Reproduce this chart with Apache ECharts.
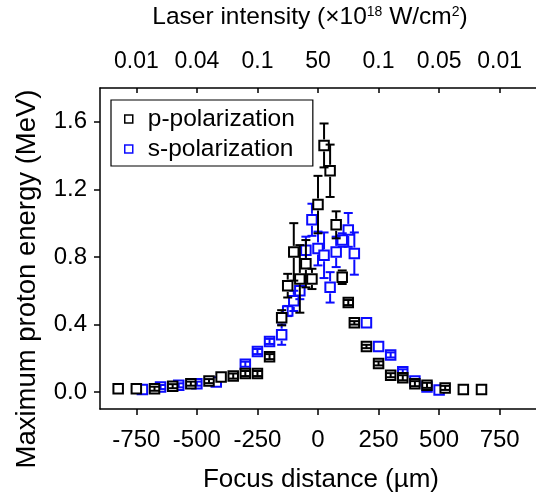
<!DOCTYPE html>
<html><head><meta charset="utf-8">
<script src="https://cdn.jsdelivr.net/npm/echarts@6/dist/echarts.min.js"></script>
<style>html,body{margin:0;padding:0;background:#fff}#c{width:536px;height:503px}</style>
</head><body><div id="c"></div>
<script>
// p-polarization (black)
const pX   = [-825,-750,-675,-600,-525,-450,-400,-350,-300,-250,-200,-150,-125,-100,-75,-50,-25,0,25,50,75,100,125,150,200,250,300,350,400,450,525,600,675];
const pY   = [0.02,0.02,0.02,0.035,0.05,0.065,0.09,0.095,0.11,0.11,0.21,0.44,0.63,0.83,0.67,0.76,0.67,1.11,1.46,1.31,0.99,0.68,0.53,0.41,0.27,0.17,0.10,0.085,0.05,0.04,0.025,0.015,0.015];
const pErr = [0,0,0.012,0.012,0.012,0.012,0,0.015,0.015,0.015,0.015,0.045,0.07,0.17,0.2,0.14,0.06,0.17,0.13,0.155,0.08,0.04,0.015,0.01,0.01,0.012,0.012,0.015,0.015,0.015,0.012,0,0];
// s-polarization (blue)
const sX   = [-725,-650,-575,-500,-420,-300,-250,-200,-150,-125,-100,-75,-50,-25,0,25,50,75,100,125,150,200,250,300,350,400,450,500];
const sY   = [0.015,0.03,0.04,0.05,0.06,0.165,0.24,0.30,0.34,0.48,0.54,0.60,0.84,1.02,0.85,0.81,0.62,0.83,0.90,0.96,0.82,0.41,0.27,0.22,0.12,0.065,0.03,0.012];
const sErr = [0,0.012,0.012,0.012,0,0.015,0.015,0.015,0.06,0.03,0.06,0.05,0.08,0.095,0.1,0.135,0.09,0.09,0.04,0.1,0.125,0,0,0.015,0.015,0.012,0,0];
// axes
const bottomTicks = [-750,-500,-250,0,250,500,750];
const topLabels   = ['0.01','0.04','0.1','50','0.1','0.05','0.01'];
const yTicks      = [0,0.4,0.8,1.2,1.6];
const yName = 'Maximum proton energy (MeV)';

const BLACK = '#000000', BLUE = '#0c0cff';
const FONT = 'Liberation Sans';

function errRender(color){
  return function(params, api){
    const x = api.value(0), y = api.value(1), e = api.value(2);
    if (!e) return;
    const c = api.coord([x, y]), t = api.coord([x, y + e]), b = api.coord([x, y - e]);
    const half = 6, cw = 4.5;
    const st = {stroke: color, lineWidth: 2};
    const ch = [];
    if (c[1] - t[1] > half) {
      ch.push({type:'line', shape:{x1:c[0], y1:t[1], x2:c[0], y2:c[1]-half}, style:st});
      ch.push({type:'line', shape:{x1:c[0], y1:c[1]+half, x2:c[0], y2:b[1]}, style:st});
    } else {
      ch.push({type:'line', shape:{x1:c[0], y1:t[1], x2:c[0], y2:b[1]}, style:st});
    }
    ch.push({type:'line', shape:{x1:c[0]-cw, y1:t[1], x2:c[0]+cw, y2:t[1]}, style:st});
    ch.push({type:'line', shape:{x1:c[0]-cw, y1:b[1], x2:c[0]+cw, y2:b[1]}, style:st});
    return {type:'group', children: ch};
  };
}

const chart = echarts.init(document.getElementById('c'), null, {renderer:'canvas'});
const axisLine = {show:true, onZero:false, lineStyle:{color:'#000', width:1.5}};
chart.setOption({
  animation: false,
  backgroundColor: '#fff',
  textStyle: {fontFamily: FONT},
  grid: {left:100, top:88, right:0, bottom:94, containLabel:false, outerBoundsMode:'none'},
  graphic: [{
    type:'text', x:27, y:279, rotation: Math.PI/2, z:10,
    style:{text: yName, fontFamily: FONT, fontSize: 27.5, fill:'#000', align:'center', verticalAlign:'middle'}
  }],
  legend: {
    orient:'vertical', left:111, top:100,
    padding:[6,18,4,13], itemGap:4,
    itemWidth:8, itemHeight:8,
    borderColor:'#000', borderWidth:1.2, borderRadius:0,
    textStyle:{fontFamily:FONT, fontSize:24.5, color:'#000', lineHeight:26, padding:[0,0,0,10]},
    data:[
      {name:'p-polarization', icon:'rect', itemStyle:{color:'#fff', borderColor:BLACK, borderWidth:1.5}},
      {name:'s-polarization', icon:'rect', itemStyle:{color:'#fff', borderColor:BLUE, borderWidth:1.5}}
    ]
  },
  xAxis: [
    {type:'value', position:'bottom', min:-900, max:900,
     name:'Focus distance (µm)', nameLocation:'middle', nameGap:58,
     nameTextStyle:{fontFamily:FONT, fontSize:26, color:'#000', padding:[0,0,0,6]},
     axisLine: axisLine,
     axisTick:{show:true, inside:false, length:6, lineStyle:{color:'#000', width:1.5}, customValues: bottomTicks},
     axisLabel:{fontFamily:FONT, fontSize:24, color:'#000', margin:19, customValues: bottomTicks},
     splitLine:{show:false}},
    {type:'value', position:'top', min:-900, max:900,
     name:'Laser intensity (×10{sup|18} W/cm{sup|2})', nameLocation:'middle', nameGap:58,
     nameTextStyle:{fontFamily:FONT, fontSize:24.5, color:'#000', padding:[0,16,0,0],
       rich:{sup:{fontFamily:FONT, fontSize:14, color:'#000', verticalAlign:'top', lineHeight:14}}},
     axisLine: axisLine,
     axisTick:{show:true, inside:true, length:5, lineStyle:{color:'#000', width:1.5}, customValues: bottomTicks},
     axisLabel:{fontFamily:FONT, fontSize:23, color:'#000', margin:15, customValues: bottomTicks,
       formatter: function(v){ const i = bottomTicks.indexOf(v); return i >= 0 ? topLabels[i] : ''; }},
     splitLine:{show:false}}
  ],
  yAxis: {type:'value', min:-0.1, max:1.8,
    axisLine: axisLine,
    axisTick:{show:true, inside:false, length:6, lineStyle:{color:'#000', width:1.5}, customValues: yTicks},
    axisLabel:{fontFamily:FONT, fontSize:24, color:'#000', margin:13, customValues: yTicks,
      formatter: function(v){ return v.toFixed(1); }},
    splitLine:{show:false}},
  series: [
    {name:'s-polarization', type:'scatter', symbol:'rect', symbolSize:9.5, z:2,
     itemStyle:{color:'#fff', borderColor:BLUE, borderWidth:2, opacity:1},
     data: sX.map((x,i)=>[x, sY[i]])},
    {name:'sErr', type:'custom', z:3, renderItem: errRender(BLUE),
     encode:{x:0, y:1}, data: sX.map((x,i)=>[x, sY[i], sErr[i]])},
    {name:'p-polarization', type:'scatter', symbol:'rect', symbolSize:9.5, z:4,
     itemStyle:{color:'#fff', borderColor:BLACK, borderWidth:2, opacity:1},
     data: pX.map((x,i)=>[x, pY[i]])},
    {name:'pErr', type:'custom', z:5, renderItem: errRender(BLACK),
     encode:{x:0, y:1}, data: pX.map((x,i)=>[x, pY[i], pErr[i]])}
  ]
});
</script></body></html>
